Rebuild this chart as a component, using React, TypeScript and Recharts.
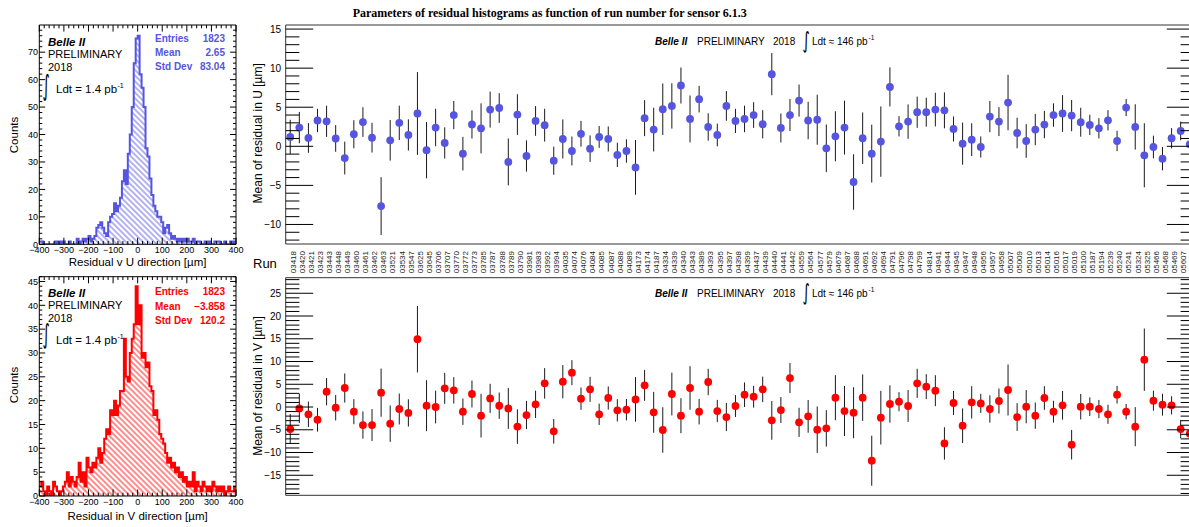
import React from 'react';
import { ScatterChart, Scatter, XAxis, YAxis, ErrorBar, ReferenceArea, AreaChart, Area } from 'recharts';

const SANS = '"Liberation Sans", Arial, Helvetica, sans-serif';
const SERIF = '"Liberation Serif", "Times New Roman", serif';
const BLUE = '#5555e0';
const RED = '#ff0000';

// ---------- data ----------
const runs = [
  '03418','03420','03421','03423','03443','03448','03449','03460','03461','03462',
  '03463','03521','03534','03547','03625','03645','03706','03707','03770','03772',
  '03773','03785','03787','03788','03789','03790','03981','03983','03992','03994',
  '04035','04074','04076','04084','04085','04087','04088','04089','04173','04174',
  '04187','04334','04339','04340','04343','04389','04393','04395','04397','04398',
  '04399','04437','04439','04440','04441','04442','04559','04564','04577','04579',
  '04679','04687','04688','04691','04692','04694','04791','04796','04798','04799',
  '04814','04941','04944','04945','04947','04948','04956','04957','04958','05007',
  '05009','05010','05013','05014','05016','05017','05019','05100','05187','05194',
  '05239','05240','05241','05324','05325','05466','05468','05469','05607','05613',
];

const meanU = [
  1.2, 2.4, 1.07, 3.3, 3.2, 1.0, -1.5, 1.54, 3.1, 1.1,
  -7.65, 0.77, 3.0, 1.45, 4.2, -0.5, 2.4, 0.43, 4.0, -0.94,
  2.8, 2.3, 4.7, 4.9, -2.0, 4.06, -1.24, 3.25, 2.7, -1.84,
  0.94, -0.6, 1.6, -0.3, 1.2, 0.94, -1.1, -0.6, -2.7, 3.6,
  2.14, 4.74, 5.17, 7.78, 3.5, 6.03, 2.48, 1.45, 5.17, 3.25,
  3.5, 4.0, 2.82, 9.23, 2.35, 4.0, 5.85, 3.3, 3.4, -0.26,
  1.28, 2.4, -4.57, 1.03, -0.94, 0.6, 7.6, 2.56, 3.16, 4.36,
  4.36, 4.7, 4.6, 2.22, 0.34, 0.85, -0.09, 3.8, 3.16, 5.6,
  1.7, 0.68, 2.14, 2.78, 4.0, 4.2, 3.93, 3.08, 2.74, 2.3,
  3.33, 0.68, 4.96, 2.48, -1.15, -0.09, -1.58, 1.03, 1.97, 0.26,
];
const errU = [
  2.2, 2.0, 1.9, 1.5, 2.0, 1.7, 2.1, 1.8, 1.9, 1.9,
  3.7, 2.6, 2.2, 2.0, 5.3, 3.6, 2.4, 2.0, 1.8, 2.15,
  1.8, 3.2, 2.3, 1.9, 3.0, 2.6, 2.0, 1.9, 2.1, 1.8,
  2.5, 1.85, 1.65, 1.7, 1.4, 1.6, 1.55, 1.5, 3.5, 2.3,
  2.8, 3.3, 2.9, 2.3, 3.0, 1.7, 1.75, 1.45, 1.9, 1.55,
  1.7, 1.65, 1.8, 2.7, 1.85, 2.05, 2.05, 2.4, 3.2, 3.05,
  3.2, 3.45, 3.55, 3.3, 3.7, 4.5, 2.5, 1.3, 2.2, 2.0,
  1.85, 2.15, 2.3, 1.6, 2.7, 2.1, 1.35, 2.0, 1.85, 3.55,
  1.95, 2.15, 2.0, 1.75, 1.5, 2.35, 2.0, 1.85, 1.3, 1.3,
  1.3, 1.3, 1.1, 2.9, 4.1, 1.45, 1.5, 1.3, 1.2, 1.5,
];
const meanV = [
  -4.84, -0.3, -1.6, -2.8, 3.37, -0.15, 4.18, -1.03, -3.96, -3.96,
  3.15, -3.66, -0.44, -1.3, 14.9, 0.29, 0.0, 4.1, 3.66, -1.03,
  2.86, -1.9, 1.9, 0.29, -0.3, -4.3, -1.76, 0.59, 5.2, -5.35,
  5.57, 7.55, 1.83, 3.88, -1.6, 1.98, -0.73, -0.59, 1.68, 4.76,
  -1.17, -5.05, 2.86, -1.9, 4.18, -1.03, 5.5, -0.88, -2.2, 0.22,
  2.71, 2.27, 3.88, -2.93, -0.66, 6.37, -3.37, -2.05, -4.98, -4.69,
  2.05, -0.88, -1.25, 2.05, -11.8, -2.34, 0.66, 1.17, 0.22, 5.2,
  4.47, 3.59, -8.0, 0.88, -4.1, 1.03, 0.8, -0.44, 1.32, 3.74,
  -2.2, 0.07, -1.9, 1.98, -1.03, 0.37, -8.28, 0.07, 0.07, -0.44,
  -1.6, 2.71, -1.03, -4.32, 10.4, 1.39, 0.51, 0.37, -4.84, -5.86,
];
const errV = [
  3.3, 3.2, 2.8, 2.6, 3.0, 2.8, 3.2, 2.75, 3.0, 3.5,
  5.3, 4.0, 3.4, 3.0, 7.3, 5.6, 3.6, 3.4, 2.9, 2.9,
  2.95, 4.8, 3.2, 2.9, 4.5, 3.8, 3.1, 3.0, 3.35, 2.7,
  3.65, 2.75, 2.45, 2.75, 2.35, 2.55, 2.45, 2.35, 4.9, 3.4,
  4.5, 5.0, 4.7, 3.85, 4.8, 2.8, 2.9, 2.45, 3.1, 2.4,
  2.7, 2.4, 2.8, 4.25, 2.85, 3.3, 3.2, 3.6, 5.1, 4.0,
  4.95, 5.5, 5.6, 5.1, 5.5, 5.9, 4.1, 2.1, 3.5, 3.2,
  2.75, 3.4, 3.55, 2.65, 3.8, 3.55, 2.1, 3.0, 2.75, 5.6,
  3.05, 3.65, 2.9, 2.6, 2.4, 3.15, 3.25, 2.8, 2.05, 2.0,
  2.1, 1.95, 1.7, 4.3, 6.85, 2.2, 2.4, 2.0, 2.0, 2.5,
];

const histLow = -400;
const histBin = 8;
const histU = [
  1, 1, 0, 0, 0, 0, 0, 0, 1, 0,
  1, 0, 1, 0, 0, 1, 0, 0, 0, 2,
  0, 1, 2, 1, 2, 3, 1, 2, 3, 6,
  7, 8, 6, 4, 3, 8, 10, 11, 15, 12,
  14, 17, 23, 27, 22, 33, 40, 50, 66, 75,
  76, 62, 57, 50, 35, 32, 24, 18, 14, 12,
  10, 10, 8, 4, 6, 7, 4, 2, 3, 2,
  1, 2, 1, 2, 1, 2, 1, 1, 2, 0,
  1, 1, 0, 0, 1, 0, 1, 0, 0, 1,
  1, 1, 0, 0, 1, 0, 0, 1, 0, 1,
];
const histV = [
  2, 3, 1, 0, 2, 1, 0, 3, 2, 1,
  0, 1, 2, 3, 5, 2, 4, 3, 2, 4,
  7, 3, 5, 2, 8, 6, 5, 7, 6, 8,
  10, 7, 9, 12, 14, 13, 18, 17, 20, 17,
  19, 22, 22, 33, 25, 24, 30, 33, 36, 44,
  36, 40, 29, 30, 27, 28, 23, 22, 17, 18,
  16, 13, 12, 11, 9, 7, 8, 6, 7, 5,
  6, 4, 5, 3, 4, 2, 3, 2, 5, 1,
  3, 2, 1, 3, 2, 1, 2, 1, 3, 2,
  1, 2, 1, 2, 0, 1, 2, 1, 1, 2,
];

const statsU = [['Entries', '1823'], ['Mean', '2.65'], ['Std Dev', '83.04']];
const statsV = [['Entries', '1823'], ['Mean', '\u22123.858'], ['Std Dev', '120.2']];

// ---------- helpers ----------
const range = (a: number, b: number, s = 1) => {
  const r: number[] = [];
  for (let v = a; v <= b + 1e-9; v += s) r.push(Math.round(v * 1000) / 1000);
  return r;
};
const fmt = (v: number) => (v < 0 ? '\u2212' + Math.abs(v) : String(v));
const isMajor = (v: number, m: number) => Math.abs(v / m - Math.round(v / m)) < 1e-6;

const YTickL = (p: any) => {
  const { x, y, payload, major, majLen, minLen, fontSize, gap } = p;
  const v = payload.value;
  const mj = isMajor(v, major);
  return (
    <g>
      <line x1={x} x2={x + (mj ? majLen : minLen)} y1={y} y2={y} stroke="#000" strokeWidth={1} />
      {mj && (
        <text x={x - gap} y={y} dy="0.36em" textAnchor="end" fontSize={fontSize} fontFamily={SANS} fill="#000">
          {fmt(v)}
        </text>
      )}
    </g>
  );
};
const YTickR = (p: any) => {
  const { x, y, payload, major, majLen, minLen } = p;
  const mj = isMajor(payload.value, major);
  return <line x1={x} x2={x - (mj ? majLen : minLen)} y1={y} y2={y} stroke="#000" strokeWidth={1} />;
};
const XTickB = (p: any) => {
  const { x, y, payload, major, majLen, minLen, fontSize, gap } = p;
  const v = payload.value;
  const mj = isMajor(v, major);
  return (
    <g>
      <line x1={x} x2={x} y1={y} y2={y - (mj ? majLen : minLen)} stroke="#000" strokeWidth={1} />
      {mj && (
        <text x={x} y={y + gap} textAnchor="middle" fontSize={fontSize} fontFamily={SANS} fill="#000">
          {fmt(v)}
        </text>
      )}
    </g>
  );
};
const XTickT = (p: any) => {
  const { x, y, payload, major, majLen, minLen } = p;
  const mj = isMajor(payload.value, major);
  return <line x1={x} x2={x} y1={y} y2={y + (mj ? majLen : minLen)} stroke="#000" strokeWidth={1} />;
};
const RunTick = (p: any) => {
  const { x, y, payload } = p;
  return (
    <text
      x={0}
      y={0}
      transform={`translate(${x + 2.8},${y + 7}) rotate(-90)`}
      textAnchor="end"
      dominantBaseline="central"
      fontSize={8}
      fontFamily={SANS}
      fill="#222"
    >
      {runs[payload.value]}
    </text>
  );
};

const noop = () => null;

// ---------- histogram panel ----------
// margin = exact plot box offsets; axes take 1px each, subtracted here
function Hist({ counts, color, yMax, yMajor, yStep, id, top, height, margin }: any) {
  const data = counts.map((c: number, i: number) => ({ x: histLow + histBin * i, c }));
  data.push({ x: histLow + histBin * counts.length, c: counts[counts.length - 1] });
  const xTicks = range(-400, 400, 20);
  const yTicks = range(0, Math.floor(yMax / yStep) * yStep, yStep);
  const m = { top: margin.top - 1, right: margin.right - 1, bottom: margin.bottom - 1, left: margin.left - 1 };
  return (
    <div style={{ position: 'absolute', left: 0, top }}>
      <AreaChart width={250} height={height} data={data} margin={m}>
        <defs>
          <pattern id={id} patternUnits="userSpaceOnUse" width={4} height={4} patternTransform="rotate(-45)">
            <line x1={2} y1={0} x2={2} y2={4} stroke={color} strokeWidth={0.9} />
          </pattern>
        </defs>
        <XAxis type="number" dataKey="x" domain={[-400, 400]} allowDataOverflow ticks={xTicks} interval={0}
          height={1} tickSize={0} tickMargin={0} axisLine={false} tickLine={false}
          tick={(p: any) => <XTickB {...p} major={100} majLen={6.6} minLen={3.3} fontSize={9} gap={8.8} />} />
        <XAxis xAxisId="t" orientation="top" type="number" dataKey="x" domain={[-400, 400]} allowDataOverflow ticks={xTicks} interval={0}
          height={1} tickSize={0} tickMargin={0} axisLine={false} tickLine={false}
          tick={(p: any) => <XTickT {...p} major={100} majLen={6.6} minLen={3.3} />} />
        <YAxis type="number" domain={[0, yMax]} allowDataOverflow ticks={yTicks} interval={0}
          width={1} tickSize={0} tickMargin={0} axisLine={false} tickLine={false}
          tick={(p: any) => <YTickL {...p} major={yMajor} majLen={5.9} minLen={3} fontSize={9} gap={1.2} />} />
        <YAxis yAxisId="r" orientation="right" type="number" domain={[0, yMax]} allowDataOverflow ticks={yTicks} interval={0}
          width={1} tickSize={0} tickMargin={0} axisLine={false} tickLine={false}
          tick={(p: any) => <YTickR {...p} major={yMajor} majLen={5.9} minLen={3} />} />
        <Area type="stepAfter" dataKey="c" stroke={color} strokeWidth={2} fill={`url(#${id})`} fillOpacity={1}
          isAnimationActive={false} dot={false} activeDot={false} />
        <ReferenceArea x1={-400} x2={400} y1={0} y2={yMax} fill="none" stroke="#000" strokeWidth={1} ifOverflow="visible" />
      </AreaChart>
    </div>
  );
}

// ---------- run panel ----------
function RunPanel({ mean, err, color, yDom, top, height, margin, showRuns }: any) {
  const data = mean.map((m: number, i: number) => ({ idx: i, m, e: err[i] }));
  const yTicks = range(Math.ceil(yDom[0]), Math.floor(yDom[1]), 1);
  const xTicks = runs.map((_, i) => i);
  const dot = (p: any) => <circle cx={p.cx} cy={p.cy} r={3.9} fill={color} />;
  const mg = { top: margin.top, right: margin.right - 1, bottom: margin.bottom - 1, left: margin.left - 1 };
  return (
    <div style={{ position: 'absolute', left: 0, top }}>
      <ScatterChart width={1200} height={height} margin={mg}>
        <XAxis type="number" dataKey="idx" domain={[-0.5, runs.length - 0.5]} allowDataOverflow ticks={xTicks} interval={0}
          height={1} tickSize={0} tickMargin={0} axisLine={false} tickLine={false}
          tick={showRuns ? (p: any) => <RunTick {...p} /> : noop} />
        <YAxis yAxisId="l" type="number" dataKey="m" domain={yDom} allowDataOverflow ticks={yTicks} interval={0}
          width={1} tickSize={0} tickMargin={0} axisLine={false} tickLine={false}
          tick={(p: any) => <YTickL {...p} major={5} majLen={27.5} minLen={13.7} fontSize={10} gap={4.5} />} />
        <YAxis yAxisId="r" orientation="right" type="number" dataKey="m" domain={yDom} allowDataOverflow ticks={yTicks} interval={0}
          width={1} tickSize={0} tickMargin={0} axisLine={false} tickLine={false}
          tick={(p: any) => <YTickR {...p} major={5} majLen={27.5} minLen={13.7} />} />
        <ReferenceArea yAxisId="l" x1={-0.5} x2={runs.length - 0.5} y1={yDom[0]} y2={yDom[1]} fill="none" stroke="#333" strokeWidth={1} ifOverflow="visible" />
        <Scatter yAxisId="l" data={data} dataKey="m" fill={color} shape={dot} isAnimationActive={false}>
          <ErrorBar dataKey="e" direction="y" width={0} stroke="#1a1a1a" strokeWidth={1} />
        </Scatter>
      </ScatterChart>
    </div>
  );
}

// ---------- annotations ----------
function BelleSmall({ y0 }: { y0: number }) {
  return (
    <g fontFamily={SANS} fontSize={10} fill="#000">
      <text x={655} y={y0} fontWeight="bold" fontStyle="italic">Belle II</text>
      <text x={697} y={y0}>PRELIMINARY</text>
      <text x={773} y={y0}>2018</text>
      <text transform={`translate(802.5,${y0 + 3}) scale(1,1.6)`} fontFamily='"DejaVu Sans", sans-serif' fontSize={14}>∫</text>
      <text x={812} y={y0}>Ldt ≈ 146 pb</text>
      <text x={868.5} y={y0 - 5} fontSize={6.5}>-1</text>
    </g>
  );
}
function BelleBig({ y0, intBase, intScale }: { y0: number; intBase: number; intScale: number }) {
  return (
    <g fontFamily={SANS} fontSize={11} fill="#000">
      <text x={48} y={y0} fontWeight="bold" fontStyle="italic" fontSize={11.5}>Belle II</text>
      <text x={48} y={y0 + 12.2}>PRELIMINARY</text>
      <text x={48} y={y0 + 25.2}>2018</text>
      <text transform={`translate(42.5,${intBase}) scale(1,${intScale})`} fontFamily='"DejaVu Sans", sans-serif' fontSize={14}>∫</text>
      <text x={56} y={y0 + 47.5} fontSize={11.5}>Ldt = 1.4 pb</text>
      <text x={117.5} y={y0 + 42} fontSize={7}>-1</text>
    </g>
  );
}
function Stats({ rows, color, y0 }: any) {
  return (
    <g fontFamily={SANS} fontSize={10} fontWeight="bold" fill={color}>
      {rows.map((r: string[], i: number) => (
        <g key={i}>
          <text x={155} y={y0 + i * 14.3}>{r[0]}</text>
          <text x={225} y={y0 + i * 14.3} textAnchor="end">{r[1]}</text>
        </g>
      ))}
    </g>
  );
}

export default function App() {
  return (
    <div style={{ position: 'absolute', left: 0, top: 0, width: 1189, height: 527, overflow: 'hidden', background: '#fff' }}>
      <Hist counts={histU} color={BLUE} yMax={79.9} yMajor={10} yStep={2} id="hatchU" top={0} height={270}
        margin={{ top: 25, right: 14, bottom: 25.7, left: 39.3 }} />
      <Hist counts={histV} color={RED} yMax={46} yMajor={5} yStep={1} id="hatchV" top={250} height={270}
        margin={{ top: 26.7, right: 14, bottom: 24, left: 39.3 }} />
      <RunPanel mean={meanU} err={errU} color={BLUE} yDom={[-12.5, 15.52]} top={0} height={290}
        margin={{ top: 25, right: 5.7, bottom: 46, left: 285.7 }} showRuns />
      <RunPanel mean={meanV} err={errV} color={RED} yDom={[-19.4, 28.42]} top={250} height={270}
        margin={{ top: 27.7, right: 5.7, bottom: 24.7, left: 285.7 }} showRuns={false} />
      <svg width={1189} height={527} style={{ position: 'absolute', left: 0, top: 0, pointerEvents: 'none' }}>
        <text x={549.7} y={16.7} textAnchor="middle" fontFamily={SERIF} fontWeight="bold" fontSize={12} fill="#000">
          Parameters of residual histograms as function of run number for sensor 6.1.3
        </text>
        <text x={253} y={267.5} fontFamily={SANS} fontSize={13} fill="#000">Run</text>
        <text transform="translate(258.3,133.3) rotate(-90)" textAnchor="middle" dominantBaseline="central" fontFamily={SANS} fontSize={12} fill="#000">
          Mean of residual in U [µm]
        </text>
        <text transform="translate(258.3,386) rotate(-90)" textAnchor="middle" dominantBaseline="central" fontFamily={SANS} fontSize={12} fill="#000">
          Mean of residual in V [µm]
        </text>
        <BelleSmall y0={45.3} />
        <BelleSmall y0={297} />
        <BelleBig y0={45.5} intBase={95} intScale={2.0} />
        <BelleBig y0={296.5} intBase={343} intScale={1.9} />
        <Stats rows={statsU} color={BLUE} y0={41.5} />
        <Stats rows={statsV} color={RED} y0={295.3} />
        <text transform="translate(13.8,135) rotate(-90)" textAnchor="middle" dominantBaseline="central" fontFamily={SANS} fontSize={11.5} fill="#000">Counts</text>
        <text transform="translate(13.8,385) rotate(-90)" textAnchor="middle" dominantBaseline="central" fontFamily={SANS} fontSize={11.5} fill="#000">Counts</text>
        <text x={137.6} y={266} textAnchor="middle" fontFamily={SANS} fontSize={11.5} fill="#000">Residual v U direction [µm]</text>
        <text x={137.6} y={520} textAnchor="middle" fontFamily={SANS} fontSize={11.5} fill="#000">Residual in V direction [µm]</text>
      </svg>
    </div>
  );
}
